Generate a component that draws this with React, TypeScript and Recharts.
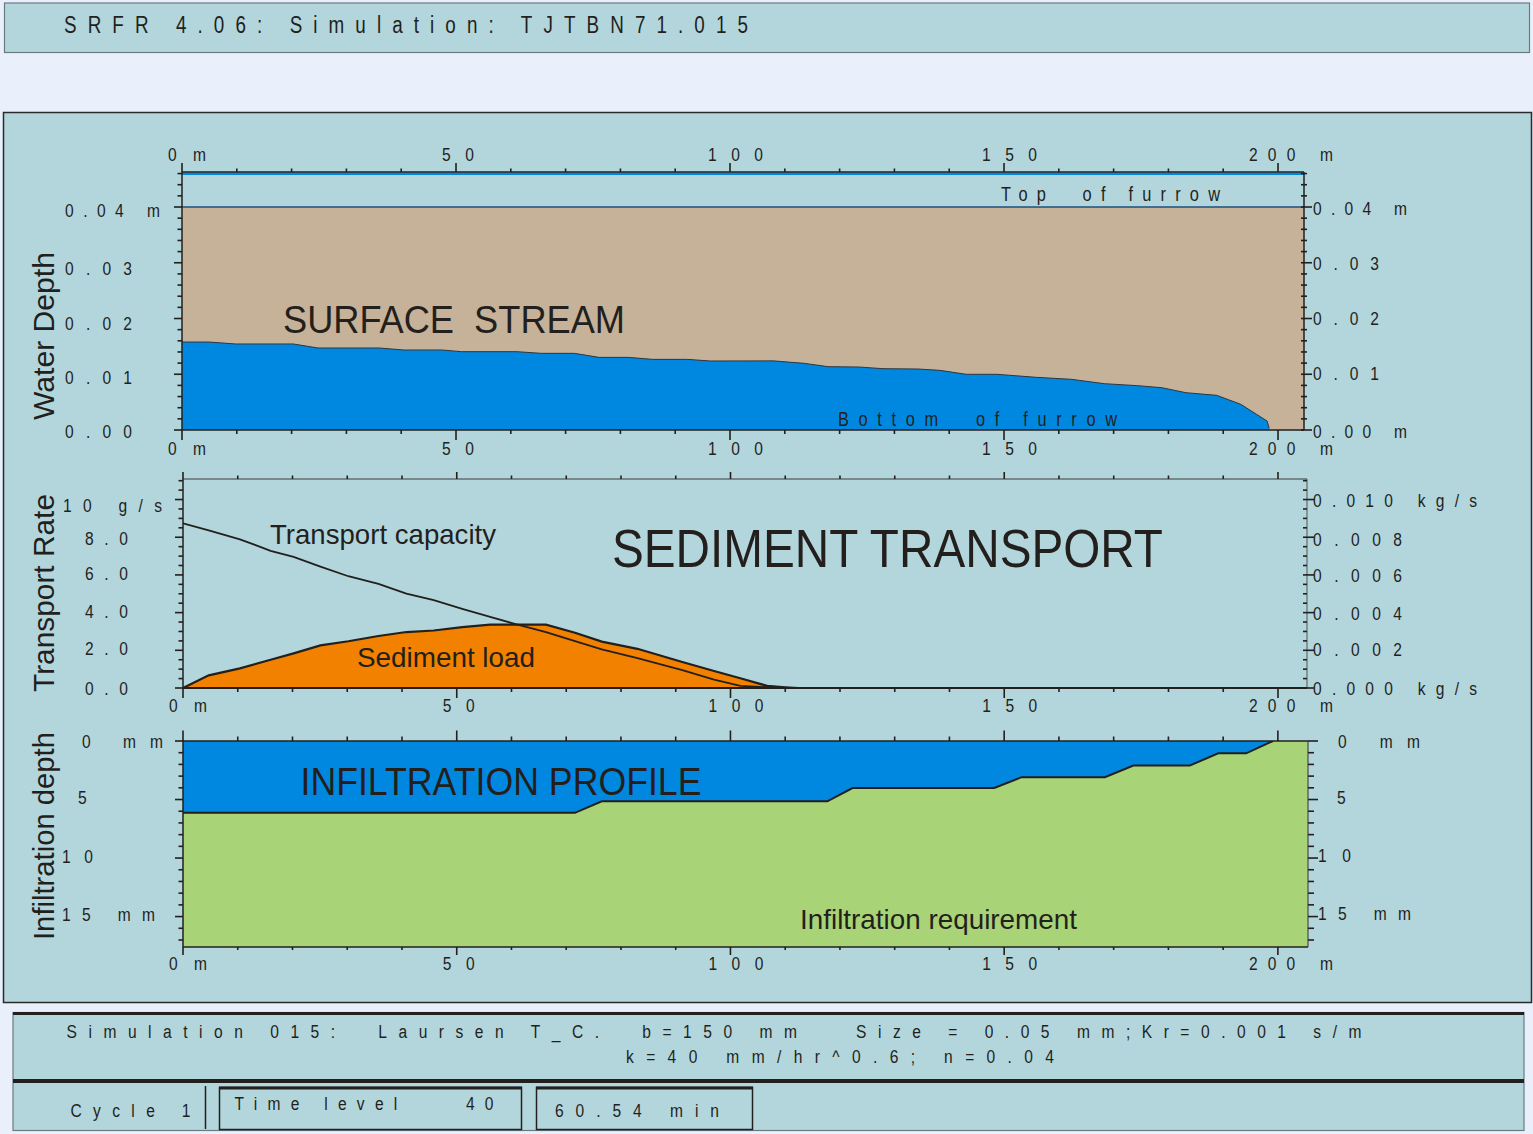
import React from 'react';
import { ComposedChart, Area, Line, XAxis, YAxis, CartesianGrid, ReferenceLine } from 'recharts';

const W = 1533;
const H = 1134;
const FONT = "'Liberation Sans Narrow','Arial Narrow','Liberation Sans',Arial,sans-serif";
const INK = '#231f1c';
const PANEL = '#b3d6dc';
const PAGE = '#eaf0fb';
const TAN = '#c6b299';
const BLUE = '#0088e0';
const ORANGE = '#f28100';
const GREEN = '#a9d377';

// ---------------- DATA ----------------
// Distance along the furrow (m)
const distMajorTicks = [0, 50, 100, 150, 200];
const distTickLabels = ['0 m', '50', '100', '150', '200 m'];

// Panel 1 – surface stream (water depth, m)
const streamStations = [0, 4.9, 9.8, 20.3, 24.8, 36.0, 40.5, 47.5, 51.0, 61.1, 65.6, 71.6, 76.1, 81.4, 85.9, 92.2, 96.4, 107.9, 113.5, 117.9, 123.5, 127.9, 134.3, 138.3, 143.1, 148.7, 155.9, 162.3, 168.3, 174.4, 178.8, 183.2, 188.8, 193.2, 198.0, 198.4];
const streamDepth = [0.01578, 0.01578, 0.01543, 0.01543, 0.01471, 0.01471, 0.01435, 0.01435, 0.01405, 0.01405, 0.01375, 0.01375, 0.01303, 0.01303, 0.01267, 0.01267, 0.01238, 0.0124, 0.01196, 0.01136, 0.0113, 0.011, 0.01094, 0.0107, 0.00999, 0.00999, 0.00945, 0.00909, 0.00831, 0.00795, 0.00759, 0.00669, 0.00622, 0.00461, 0.00161, 0.0003];
const furrowTopDepth = 0.04;
const furrowEnd = 204.74;
const depthMax = 0.04628;
const depthMajorTicks = [0, 0.01, 0.02, 0.03, 0.04];
const depthLeftLabels = ['0.00', '0.01', '0.02', '0.03', '0.04 m'];
const depthRightLabels = ['0.00 m', '0.01', '0.02', '0.03', '0.04 m'];

// Panel 2 – sediment transport (g/s)
const sedStations = [0, 4.7, 10.4, 16.0, 20.2, 25.1, 30.2, 35.7, 40.8, 45.8, 51.0, 56.1, 60.6, 66.3, 71.6, 76.5, 83.0, 91.2, 97.0, 101.8, 106.7, 110.0, 112.4];
const transportCapacity = [8.74, 8.36, 7.89, 7.28, 6.96, 6.44, 5.93, 5.52, 5.01, 4.66, 4.2, 3.78, 3.4, 2.97, 2.49, 2.05, 1.58, 0.95, 0.45, 0.11, 0.04, 0.01, 0];
const sedimentLoad = [0, 0.67, 1.04, 1.5, 1.84, 2.26, 2.48, 2.76, 2.97, 3.05, 3.23, 3.36, 3.36, 3.36, 2.93, 2.46, 2.08, 1.38, 0.9, 0.52, 0.11, 0.04, 0];
const sedXMax = 205.3;
const rateMax = 11.09;
const rateMajorTicks = [0, 2, 4, 6, 8, 10];
const rateLeftLabels = ['0.0', '2.0', '4.0', '6.0', '8.0', '10 g/s'];
const rateKgMax = 0.01109;
const rateKgMajorTicks = [0, 0.002, 0.004, 0.006, 0.008, 0.01];
const rateRightLabels = ['0.000 kg/s', '0.002', '0.004', '0.006', '0.008', '0.010 kg/s'];

// Panel 3 – infiltration profile (mm)
const infStations = [0, 71.6, 76.5, 117.7, 122.3, 148.2, 153.2, 168.4, 173.6, 183.9, 189.1, 194.2, 199.1];
const infDepth = [6.14, 6.14, 5.15, 5.15, 4.02, 4.02, 3.09, 3.09, 2.1, 2.1, 1.05, 1.05, 0];
const infXMax = 205.5;
const infMax = 17.6;
const infMajorTicks = [0, 5, 10, 15];
const infLabels = ['0 mm', '5', '10', '15 mm'];

// ---------------- helpers ----------------
const range = (a: number, b: number, s: number) => {
  const out: number[] = [];
  for (let i = 0; a + i * s <= b + 1e-9; i++) out.push(+(a + i * s).toFixed(6));
  return out;
};
const near = (a: number, b: number) => Math.abs(a - b) < 1e-7;

const streamRows = [
  ...streamStations.map((x, i) => ({ x, depth: streamDepth[i], furrow: furrowTopDepth })),
  { x: furrowEnd, depth: undefined as number | undefined, furrow: furrowTopDepth },
];
const sedRows = sedStations.map((x, i) => ({ x, capacity: transportCapacity[i], load: sedimentLoad[i] }));
const infRows = infStations.map((x, i) => ({ x, infil: infDepth[i] }));

// text, optionally condensed horizontally (c < 1) to mimic a narrow face
function SText({ x, y, w, size, children, anchor = 'start', adjust = 'spacing', rotate = 0, c = 1 }: any) {
  const str = String(children);
  const extra: any = {};
  if (w && str.length > 1) {
    extra.textLength = w / c;
    extra.lengthAdjust = adjust;
  }
  const tf = `translate(${x} ${y})${rotate ? ` rotate(${rotate})` : ''} scale(${c} 1)`;
  return (
    <text x={0} y={0} fontFamily={FONT} fontSize={size} fill={INK} textAnchor={anchor}
      transform={tf} style={{ whiteSpace: 'pre' }} {...extra}>{str}</text>
  );
}

const NARROW = 0.82;
const LBL = 19;
const xLabelDx = [-14, -14, -22, -22, -29];
const xLabelW = [38, 32, 55, 55, 84];

function makeXTick(o: { dir: number; majorLen: number; minorLen: number; labelDy?: number }) {
  return (p: any) => {
    const { x, y, payload } = p;
    const i = distMajorTicks.findIndex((m) => near(m, payload.value));
    const len = i >= 0 ? o.majorLen : o.minorLen;
    return (
      <g>
        <line x1={x} x2={x} y1={y} y2={y + o.dir * len} stroke={INK} strokeWidth={1.6} />
        {i >= 0 && o.labelDy !== undefined && (
          <SText x={x + xLabelDx[i]} y={y + o.labelDy} w={xLabelW[i]} size={LBL} c={NARROW}>{distTickLabels[i]}</SText>
        )}
      </g>
    );
  };
}

function makeYTick(o: { majors: number[]; labels: string[]; dx: number[]; w: number[]; dy: number[]; major: number[]; minor: number[] }) {
  return (p: any) => {
    const { x, y, payload } = p;
    const i = o.majors.findIndex((m) => near(m, payload.value));
    const seg = i >= 0 ? o.major : o.minor;
    return (
      <g>
        <line x1={x + seg[0]} x2={x + seg[1]} y1={y} y2={y} stroke={INK} strokeWidth={1.6} />
        {i >= 0 && (
          <SText x={x + o.dx[i]} y={y + o.dy[i]} w={o.w[i]} size={LBL} c={NARROW}>{o.labels[i]}</SText>
        )}
      </g>
    );
  };
}

const xTicks = range(0, 200, 10);
// axes are 1px thick; ticks/labels are drawn by the custom tick renderers
const axisCommon = { tickSize: 0, tickMargin: 0, tickLine: false, interval: 0 as const, allowDataOverflow: true, type: 'number' as const };

function StreamChart() {
  return (
    <ComposedChart width={W} height={H} data={streamRows} margin={{ top: 171, right: 228, bottom: 703, left: 181 }}>
      <XAxis xAxisId="b" dataKey="x" orientation="bottom" height={1} domain={[0, furrowEnd]} ticks={xTicks}
        axisLine={{ stroke: INK, strokeWidth: 1.5 }} tick={makeXTick({ dir: 1, majorLen: 10, minorLen: 4, labelDy: 25 })} {...axisCommon} />
      <XAxis xAxisId="t" dataKey="x" orientation="top" height={1} domain={[0, furrowEnd]} ticks={xTicks}
        axisLine={{ stroke: INK, strokeWidth: 1.5 }} tick={makeXTick({ dir: -1, majorLen: 9, minorLen: 3.5, labelDy: -11.3 })} {...axisCommon} />
      <YAxis yAxisId="l" orientation="left" width={1} domain={[0, depthMax]} ticks={range(0, 0.046, 0.002)}
        axisLine={{ stroke: INK, strokeWidth: 1.5 }}
        tick={makeYTick({ majors: depthMajorTicks, labels: depthLeftLabels, dx: [-117, -117, -117, -117, -117], w: [67, 67, 67, 67, 95], dy: [8.3, 9.7, 11.5, 12.3, 9.7], major: [-8, 0], minor: [-4.5, 0] })}
        {...axisCommon} />
      <YAxis yAxisId="r" orientation="right" width={1} domain={[0, depthMax]} ticks={range(0, 0.046, 0.002)}
        axisLine={{ stroke: INK, strokeWidth: 1.5 }}
        tick={makeYTick({ majors: depthMajorTicks, labels: depthRightLabels, dx: [9, 9, 9, 9, 9], w: [94, 66, 66, 66, 94], dy: [8.3, 5.8, 6.5, 7.3, 8], major: [-3, 8], minor: [-3, 3] })}
        {...axisCommon} />
      <Area xAxisId="b" yAxisId="l" dataKey="furrow" type="linear" fill={TAN} fillOpacity={1} stroke="none" isAnimationActive={false} />
      <Area xAxisId="b" yAxisId="l" dataKey="depth" type="linear" fill={BLUE} fillOpacity={1} stroke="#2c3640" strokeWidth={1} isAnimationActive={false} />
      <ReferenceLine xAxisId="b" yAxisId="l" y={furrowTopDepth} stroke="#1d4f7c" strokeWidth={1.5} />
      <ReferenceLine xAxisId="b" yAxisId="l" y={depthMax - 0.0003} stroke={BLUE} strokeWidth={2.5} />
    </ComposedChart>
  );
}

function SedimentChart() {
  return (
    <ComposedChart width={W} height={H} data={sedRows} margin={{ top: 478, right: 225, bottom: 445, left: 182 }}>
      <XAxis xAxisId="b" dataKey="x" orientation="bottom" height={1} domain={[0, sedXMax]} ticks={xTicks}
        axisLine={{ stroke: INK, strokeWidth: 2 }} tick={makeXTick({ dir: 1, majorLen: 10, minorLen: 4, labelDy: 23.7 })} {...axisCommon} />
      <XAxis xAxisId="t" dataKey="x" orientation="top" height={1} domain={[0, sedXMax]} ticks={xTicks}
        axisLine={{ stroke: '#3a3a3a', strokeWidth: 1.2 }} tick={makeXTick({ dir: -1, majorLen: 7, minorLen: 3.5 })} {...axisCommon} />
      <YAxis yAxisId="l" orientation="left" width={1} domain={[0, rateMax]} ticks={range(0, 11, 0.5)}
        axisLine={{ stroke: INK, strokeWidth: 1.5 }}
        tick={makeYTick({ majors: rateMajorTicks, labels: rateLeftLabels, dx: [-98, -98, -98, -98, -98, -120], w: [43, 43, 43, 43, 43, 99], dy: [7, 4.7, 5.7, 5.1, 7.8, 12.2], major: [-8, 0], minor: [-4.5, 0] })}
        {...axisCommon} />
      <YAxis yAxisId="r" orientation="right" width={1} domain={[0, rateKgMax]} ticks={range(0, 0.011, 0.0005)}
        axisLine={{ stroke: '#555', strokeWidth: 1 }}
        tick={makeYTick({ majors: rateKgMajorTicks, labels: rateRightLabels, dx: [6, 6, 6, 6, 6, 6], w: [164, 89, 89, 89, 89, 164], dy: [7, 5.7, 7.4, 6.8, 8.8, 7.2], major: [-4, 7], minor: [-4, 0] })}
        {...axisCommon} />
      <Area xAxisId="b" yAxisId="l" dataKey="load" type="linear" fill={ORANGE} fillOpacity={1} stroke={INK} strokeWidth={2.2} isAnimationActive={false} />
      <Line xAxisId="b" yAxisId="l" dataKey="capacity" type="linear" stroke={INK} strokeWidth={1.8} dot={false} isAnimationActive={false} />
    </ComposedChart>
  );
}

function InfiltrationChart() {
  return (
    <ComposedChart width={W} height={H} data={infRows} margin={{ top: 740, right: 224, bottom: 186, left: 182 }}>
      <CartesianGrid xAxisId="b" yAxisId="l" fill={GREEN} fillOpacity={1} horizontal={false} vertical={false} stroke="none" />
      <XAxis xAxisId="b" dataKey="x" orientation="bottom" height={1} domain={[0, infXMax]} ticks={xTicks}
        axisLine={{ stroke: INK, strokeWidth: 1.5 }} tick={makeXTick({ dir: 1, majorLen: 8, minorLen: 3, labelDy: 23 })} {...axisCommon} />
      <XAxis xAxisId="t" dataKey="x" orientation="top" height={1} domain={[0, infXMax]} ticks={xTicks}
        axisLine={{ stroke: INK, strokeWidth: 1.5 }} tick={makeXTick({ dir: -1, majorLen: 10.5, minorLen: 4.5 })} {...axisCommon} />
      <YAxis yAxisId="l" orientation="left" width={1} reversed domain={[0, infMax]} ticks={range(0, 17, 1)}
        axisLine={{ stroke: INK, strokeWidth: 1.5 }}
        tick={makeYTick({ majors: infMajorTicks, labels: infLabels, dx: [-101, -105, -121, -121], w: [81, 0, 31, 93], dy: [7.3, 4.5, 4.5, 4], major: [-8, 0], minor: [-4.5, 0] })}
        {...axisCommon} />
      <YAxis yAxisId="r" orientation="right" width={1} reversed domain={[0, infMax]} ticks={range(0, 17, 1)}
        axisLine={{ stroke: '#4a4a4a', strokeWidth: 1.2 }}
        tick={makeYTick({ majors: infMajorTicks, labels: infLabels, dx: [30, 29, 10, 10], w: [82, 0, 33, 93], dy: [7.3, 4.2, 4, 3.4], major: [0, 10], minor: [0, 6] })}
        {...axisCommon} />
      <Area xAxisId="b" yAxisId="l" dataKey="infil" type="linear" fill={BLUE} fillOpacity={1} stroke={INK} strokeWidth={2} isAnimationActive={false} />
    </ComposedChart>
  );
}

function Background() {
  return (
    <svg width={W} height={H} style={{ position: 'absolute', left: 0, top: 0 }}>
      <rect x={0} y={0} width={W} height={H} fill={PAGE} />
      <rect x={4.5} y={3} width={1525} height={49.5} fill={PANEL} stroke="#6a7a80" strokeWidth={1.2} />
      <rect x={3.5} y={112.5} width={1528} height={890} fill={PANEL} stroke="#2a2a2a" strokeWidth={1.5} />
      <rect x={13} y={1012.5} width={1511} height={118} fill={PANEL} stroke="#6a7a80" strokeWidth={1.2} />
      <line x1={13} x2={1524} y1={1013.5} y2={1013.5} stroke={INK} strokeWidth={3} />
      <line x1={13} x2={1524} y1={1081} y2={1081} stroke={INK} strokeWidth={4} />
      <line x1={205.5} x2={205.5} y1={1086} y2={1129} stroke={INK} strokeWidth={1.5} />
      <rect x={219.5} y={1087.5} width={302} height={42} fill="none" stroke={INK} strokeWidth={1.5} />
      <line x1={219} x2={522} y1={1088} y2={1088} stroke={INK} strokeWidth={3} />
      <rect x={536.5} y={1087.5} width={216} height={42} fill="none" stroke={INK} strokeWidth={1.5} />
      <line x1={536} x2={753} y1={1088} y2={1088} stroke={INK} strokeWidth={3} />
    </svg>
  );
}

function Overlay() {
  return (
    <svg width={W} height={H} style={{ position: 'absolute', left: 0, top: 0, pointerEvents: 'none' }}>
      <SText x={64} y={32.5} w={684} size={23} c={NARROW}>SRFR 4.06: Simulation: TJTBN71.015</SText>

      <SText x={53.5} y={336} w={168} size={30} anchor="middle" adjust="spacingAndGlyphs" rotate={-90}>Water Depth</SText>
      <SText x={53.5} y={593} w={198} size={30} anchor="middle" adjust="spacingAndGlyphs" rotate={-90}>Transport Rate</SText>
      <SText x={53.5} y={836} w={208} size={30} anchor="middle" adjust="spacingAndGlyphs" rotate={-90}>Infiltration depth</SText>

      <SText x={283} y={333} w={342} size={38} adjust="spacingAndGlyphs">SURFACE  STREAM</SText>
      <SText x={1001} y={200.5} w={219} size={20} c={NARROW}>Top  of furrow</SText>
      <SText x={838} y={426} w={279} size={20} c={NARROW}>Bottom  of furrow</SText>

      <SText x={612} y={567} w={551} size={53} adjust="spacingAndGlyphs">SEDIMENT TRANSPORT</SText>
      <SText x={270} y={544} w={226} size={28} adjust="spacingAndGlyphs">Transport capacity</SText>
      <SText x={357} y={667} w={178} size={28} adjust="spacingAndGlyphs">Sediment load</SText>

      <SText x={300.5} y={795} w={401} size={38} adjust="spacingAndGlyphs">INFILTRATION PROFILE</SText>
      <SText x={800} y={929} w={277} size={28} adjust="spacingAndGlyphs">Infiltration requirement</SText>

      <SText x={66.5} y={1038} w={1295} size={19} c={NARROW}>Simulation 015:  Laursen T_C.  b=150 mm   Size = 0.05 mm;Kr=0.001 s/m</SText>
      <SText x={626} y={1063} w={428} size={19} c={NARROW}>k=40 mm/hr^0.6; n=0.04</SText>
      <SText x={70.5} y={1116.5} w={120} size={19} c={NARROW}>Cycle 1</SText>
      <SText x={234.5} y={1110} w={259} size={19} c={NARROW}>Time level    40</SText>
      <SText x={555} y={1116.5} w={164} size={19} c={NARROW}>60.54 min</SText>
    </svg>
  );
}

export default function App() {
  return (
    <div style={{ position: 'absolute', left: 0, top: 0, width: W, height: H, overflow: 'hidden', fontFamily: FONT }}>
      <Background />
      <div style={{ position: 'absolute', left: 0, top: 0 }}><StreamChart /></div>
      <div style={{ position: 'absolute', left: 0, top: 0 }}><SedimentChart /></div>
      <div style={{ position: 'absolute', left: 0, top: 0 }}><InfiltrationChart /></div>
      <Overlay />
    </div>
  );
}
